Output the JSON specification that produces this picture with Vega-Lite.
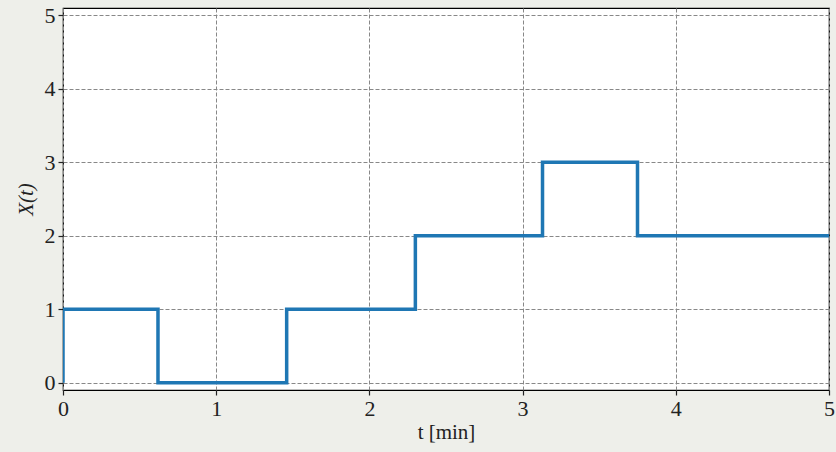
{
  "$schema": "https://vega.github.io/schema/vega-lite/v6.json",
  "width": 766,
  "height": 382,
  "autosize": {"type": "none"},
  "padding": {"left": 63, "top": 8, "right": 7, "bottom": 62},
  "background": "#eeefea",
  "config": {
    "view": {"fill": "white", "stroke": "black", "strokeWidth": 1.2},
    "font": "DejaVu Serif",
    "axis": {
      "labelFont": "Liberation Serif, DejaVu Serif, serif",
      "titleFont": "Liberation Serif, DejaVu Serif, serif",
      "labelFontSize": 22,
      "titleFontSize": 21,
      "labelColor": "#222",
      "titleColor": "#222",
      "titleFontWeight": "normal",
      "tickColor": "#222",
      "tickSize": 5,
      "tickWidth": 1.2,
      "domain": false,
      "gridColor": "#888",
      "gridDash": [4, 2],
      "gridWidth": 1,
      "gridOpacity": 1,
      "labelPadding": 3,
      "labelFlush": false
    }
  },
  "data": {
    "values": [
      {"i": 0, "t": 0, "X": 0},
      {"i": 1, "t": 0, "X": 1},
      {"i": 2, "t": 0.62, "X": 0},
      {"i": 3, "t": 1.46, "X": 1},
      {"i": 4, "t": 2.3, "X": 2},
      {"i": 5, "t": 3.13, "X": 3},
      {"i": 6, "t": 3.75, "X": 2},
      {"i": 7, "t": 5, "X": 2}
    ]
  },
  "mark": {"type": "line", "interpolate": "step-after", "color": "#1f77b4", "strokeWidth": 3.5, "clip": true, "strokeJoin": "miter"},
  "encoding": {
    "x": {
      "field": "t", "type": "quantitative",
      "scale": {"domain": [0, 5], "nice": false, "zero": false},
      "axis": {"values": [0, 1, 2, 3, 4, 5], "format": "d", "title": "t [min]", "titlePadding": 2}
    },
    "y": {
      "field": "X", "type": "quantitative",
      "scale": {"domain": [-0.1, 5.1], "nice": false, "zero": false},
      "axis": {"values": [0, 1, 2, 3, 4, 5], "format": "d", "title": "X(t)", "titleFontStyle": "italic", "titlePadding": 8}
    },
    "order": {"field": "i", "type": "quantitative"}
  }
}
